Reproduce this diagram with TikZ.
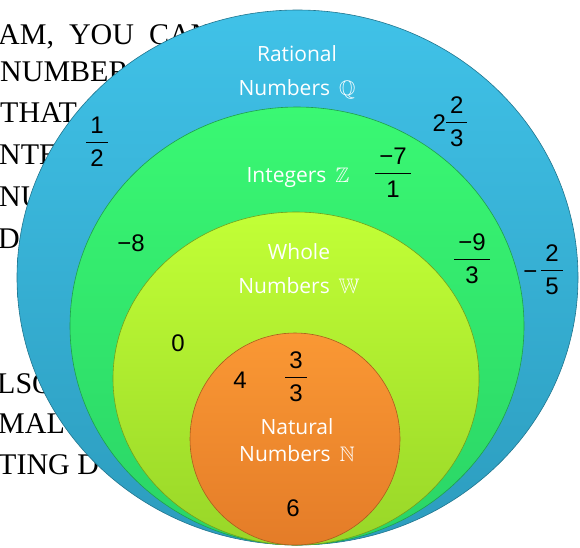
\documentclass[tikz,border=0pt]{standalone}
\usepackage{amssymb}
\usepackage{fontspec}
\setmainfont{Liberation Serif}
\newfontfamily\labelfont{Open Sans}
\newfontfamily\numfont{Liberation Sans}
\usetikzlibrary{shapes.geometric}

\definecolor{ratTop}{RGB}{64,194,232}
\definecolor{ratBot}{RGB}{44,156,190}
\definecolor{intTop}{RGB}{58,248,115}
\definecolor{intBot}{RGB}{42,212,102}
\definecolor{wholeTop}{RGB}{194,255,54}
\definecolor{wholeBot}{RGB}{152,214,40}
\definecolor{natTop}{RGB}{250,152,52}
\definecolor{natBot}{RGB}{228,124,40}

\setlength{\arrayrulewidth}{1pt}
\newcommand{\nfrac}[2]{\begin{tabular}{@{\,}c@{\,}}#1\\[0pt]\hline\noalign{\vskip 6pt}#2\end{tabular}}

\begin{document}
\begin{tikzpicture}[x=1pt, y=-1pt,
  numset/.style={ellipse, draw=#1Bot!75!black, line width=0.6pt, inner sep=0pt,
                 top color=#1Top, bottom color=#1Bot},
  setlabel/.style={font=\labelfont\fontsize{21}{34}\selectfont, text=white, align=center},
  member/.style={font=\numfont\fontsize{24}{26}\selectfont, inner sep=0pt},
  slidetext/.style={font=\fontsize{30}{36}\selectfont, anchor=base west, inner sep=0pt}]

\useasboundingbox (0,0) rectangle (580,547);
\begin{scope}
  \clip (0,0) rectangle (580,547);

  % slide text behind the sets
  \node[slidetext] (t1) at (-2,44)  {AM,\ \ YOU\ \ CAN};
  \node[slidetext] (t2) at (0,81)   {NUMBER};
  \node[slidetext] (t3) at (0,122)  {THAT};
  \node[slidetext] (t4) at (-1,164) {NTE};
  \node[slidetext] (t5) at (-1,206) {NU};
  \node[slidetext] (t6) at (-2,248) {D};
  \node[slidetext] (t7) at (-3,393) {LSO};
  \node[slidetext] (t8) at (-2,433) {MAL};
  \node[slidetext] (t9) at (-2,474) {TING D};

  % nested sets
  \node[numset=rat, minimum width=561pt, minimum height=535pt] (rational) at (297.5,277.5) {};
  \node[numset=int, minimum width=454pt, minimum height=438pt] (integer) at (297,326) {};
  \node[numset=whole, minimum width=366pt, minimum height=333pt] (whole) at (296,378.5) {};
  \node[numset=nat, minimum width=210pt, minimum height=212pt] (natural) at (295,439) {};
\end{scope}

% set names
\node[setlabel] (ratname) at (297,72) {Rational\\Numbers~\,$\mathbb{Q}$};
\node[setlabel, anchor=base] (intname) at (298,182) {Integers~\,$\mathbb{Z}$};
\node[setlabel] (wholename) at (299,269) {Whole\\Numbers~\,$\mathbb{W}$};
\node[setlabel, font=\labelfont\fontsize{21}{27}\selectfont] (natname) at (297,440) {Natural\\Numbers~\,$\mathbb{N}$};

% members
\node[member] (half) at (97,145) {\nfrac{1}{2}};
\node[member] (mixed) at (450,125) {2\nfrac{2}{3}};
\node[member] (sevenths) at (393,176) {\nfrac{−7}{1}};
\node[member] (minuseight) at (131,243) {−8};
\node[member] (ninths) at (472,262) {\nfrac{−9}{3}};
\node[member] (fifths) at (543,273) {−\,\nfrac{2}{5}};
\node[member] (zero) at (178,343) {0};
\node[member] (four) at (240,380) {4};
\node[member] (thirds) at (296,380) {\nfrac{3}{3}};
\node[member] (six) at (293,508) {6};

\end{tikzpicture}
\end{document}
